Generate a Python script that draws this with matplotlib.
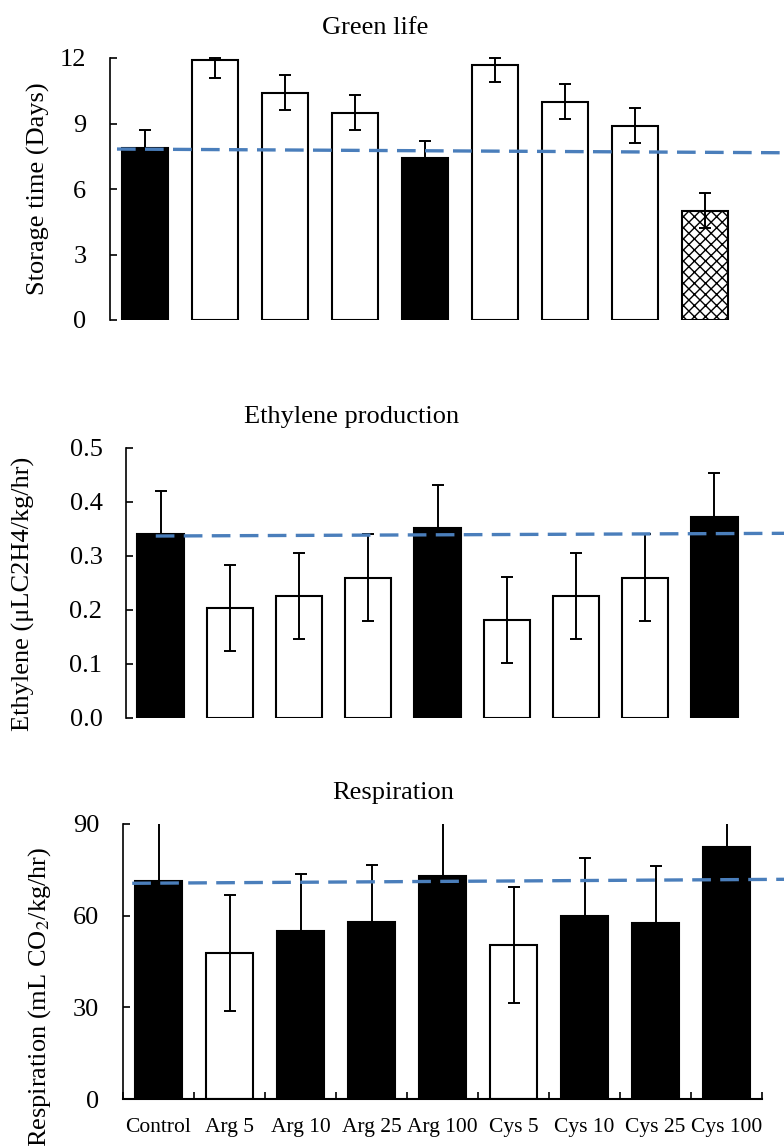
import matplotlib
matplotlib.use("Agg")
import matplotlib.pyplot as plt
import numpy as np

plt.rcParams['font.family'] = ['Liberation Serif', 'DejaVu Serif']
plt.rcParams['mathtext.fontset'] = 'stix'
plt.rcParams['hatch.linewidth'] = 1.0

categories = ["Control", "Arg 5", "Arg 10", "Arg 25", "Arg 100",
              "Cys 5", "Cys 10", "Cys 25", "Cys 100"]

# Green life (days)
green = [7.9, 11.9, 10.4, 9.5, 7.4, 11.7, 10.0, 8.9, 5.0]
green_err_lo = [0.8, 0.8, 0.8, 0.8, 0.8, 0.8, 0.8, 0.8, 0.8]
green_err_hi = [0.8, 0.1, 0.8, 0.8, 0.8, 0.3, 0.8, 0.8, 0.8]
green_style = ["black", "white", "white", "white", "black",
               "white", "white", "white", "hatch"]
green_trend = [7.83, 7.66]

# Ethylene production
ethylene = [0.34, 0.204, 0.226, 0.26, 0.351, 0.181, 0.226, 0.26, 0.373]
ethylene_err = [0.08, 0.08, 0.08, 0.08, 0.08, 0.08, 0.08, 0.08, 0.08]
ethylene_style = ["black", "white", "white", "white", "black",
                  "white", "white", "white", "black"]
ethylene_trend = [0.337, 0.342]

# Respiration
resp = [71.3, 47.8, 54.9, 57.9, 73.0, 50.4, 60.0, 57.5, 82.6]
resp_err = [19, 19, 18.7, 18.7, 19, 19, 18.8, 18.9, 19]
resp_style = ["black", "white", "black", "black", "black",
              "white", "black", "black", "black"]
resp_trend = [70.6, 71.9]

W, H = 784, 1146
fig = plt.figure(figsize=(W / 100, H / 100), dpi=100)


def make_ax(left, right, top, bottom):
    return fig.add_axes([left / W, 1 - bottom / H, (right - left) / W, (bottom - top) / H])


FS = 19
x = np.arange(len(categories))
BW = 0.67


def draw_panel(ax, vals, err_lo, err_hi, styles, ylim, yticks, yticklabels,
               trend, trend_x, title, title_xy, ylabel, ylabel_xy, err_clip=True):
    for xi, v, s in zip(x, vals, styles):
        if s == "black":
            ax.bar(xi, v, width=BW, color="black", edgecolor="black", linewidth=1.5, zorder=2)
        elif s == "hatch":
            ax.bar(xi, v, width=BW, color="white", edgecolor="black", hatch="xxx",
                   linewidth=1.5, zorder=2)
        else:
            ax.bar(xi, v, width=BW, color="white", edgecolor="black", linewidth=1.5, zorder=2)
    eb = ax.errorbar(x, vals, yerr=[err_lo, err_hi], fmt="none", ecolor="black",
                     elinewidth=1.4, capsize=4.5, capthick=1.4, zorder=3)
    for artist in eb.lines[1] + eb.lines[2]:
        artist.set_clip_on(err_clip)
    ax.plot(trend_x, trend, color="#4a7ebb", lw=2.4, linestyle=(0, (5.6, 2.8)),
            clip_on=False, zorder=4, solid_capstyle="butt", dash_capstyle="butt")
    ax.set_xlim(-0.5, len(categories) - 0.5)
    ax.set_ylim(*ylim)
    ax.set_yticks(yticks)
    ax.set_yticklabels(yticklabels, fontsize=FS)
    ax.tick_params(axis="y", direction="in", length=5, width=1.2, pad=17)
    for sp in ["top", "right"]:
        ax.spines[sp].set_visible(False)
    ax.spines["left"].set_linewidth(1.2)
    fig.text(title_xy[0] / W, 1 - title_xy[1] / H, title, fontsize=FS,
             ha="center", va="center")
    fig.text(ylabel_xy[0] / W, 1 - ylabel_xy[1] / H, ylabel, fontsize=FS,
             ha="center", va="center", rotation=90)


# Panel 1
ax1 = make_ax(110, 740, 58, 320)
draw_panel(ax1, green, green_err_lo, green_err_hi, green_style, (0, 12),
           [0, 3, 6, 9, 12], ["0", "3", "6", "9", "12"],
           green_trend, [-0.4, 9.13], "Green life", (375, 28),
           "Storage time (Days)", (38, 189), err_clip=False)
ax1.spines["bottom"].set_visible(False)
ax1.set_xticks([])

# Panel 2
ax2 = make_ax(126, 749, 448, 718)
draw_panel(ax2, ethylene, ethylene_err, ethylene_err, ethylene_style, (0, 0.5),
           [0, 0.1, 0.2, 0.3, 0.4, 0.5], ["0.0", "0.1", "0.2", "0.3", "0.4", "0.5"],
           ethylene_trend, [-0.07, 9.01], "Ethylene production", (352, 417),
           "Ethylene (\u03bcLC2H4/kg/hr)", (23, 594))
ax2.spines["bottom"].set_visible(False)
ax2.set_xticks([])

# Panel 3
ax3 = make_ax(123, 762, 824, 1099)
draw_panel(ax3, resp, resp_err, resp_err, resp_style, (0, 90),
           [0, 30, 60, 90], ["0", "30", "60", "90"],
           resp_trend, [-0.37, 8.82], "Respiration", (393, 793),
           "Respiration (mL CO$_2$/kg/hr)", (40, 997))
ax3.spines["bottom"].set_linewidth(1.5)
ax3.set_xticks(x)
ax3.set_xticklabels(categories, fontsize=15.5)
ax3.tick_params(axis="x", which="major", length=0, pad=14)
ax3.set_xticks(np.arange(-0.5, len(categories)), minor=True)
ax3.tick_params(axis="x", which="minor", direction="in", length=5, width=1.2)

fig.savefig("out.png", dpi=100)
